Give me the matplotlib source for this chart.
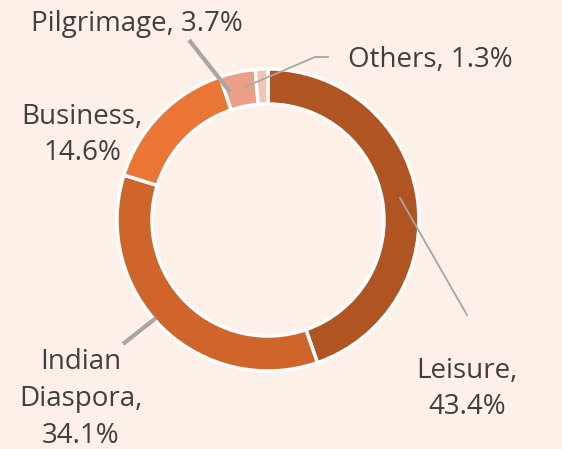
import matplotlib.pyplot as plt

plt.rcParams['font.family'] = ['Open Sans', 'DejaVu Sans']

# data (labels as shown on the chart; shares do not add to 100 in the source)
categories = ["Leisure", "Indian Diaspora", "Business", "Pilgrimage", "Others"]
shares = [43.4, 34.1, 14.6, 3.7, 1.3]
colors = ["#B05422", "#D0652C", "#EA7535", "#EC9F87", "#F3C5B8"]

bg = "#FDF0E9"
txt = "#3F3F3F"
W, H = 562, 449

fig = plt.figure(figsize=(W / 100, H / 100), dpi=100, facecolor=bg)
ax = fig.add_axes([0, 0, 1, 1])
ax.set_facecolor(bg)
ax.set_xlim(0, W)
ax.set_ylim(0, H)
ax.set_aspect('equal')
ax.axis('off')

# donut, clockwise from 12 o'clock
ax.pie(shares, colors=colors, startangle=90, counterclock=False,
       radius=151, center=(268, H - 220),
       wedgeprops=dict(width=35, edgecolor='white', linewidth=2.5))
ax.set_xlim(0, W)
ax.set_ylim(0, H)


def py(y):
    # pixel row from top -> data y
    return H - y


# leader lines
ax.plot([189, 230], [py(40), py(92)], color='#A6A6A6', lw=3, solid_capstyle='butt')
ax.plot([328, 315, 245], [py(57), py(57), py(87)], color='#A6A6A6', lw=1.3)
ax.plot([123, 156], [py(344), py(318)], color='#A6A6A6', lw=3, solid_capstyle='butt')
ax.plot([400, 467], [py(198), py(315)], color='#A6A6A6', lw=1.3)

fs = 20
lbl = [f"{c}, {s}%" for c, s in zip(categories, shares)]
ax.text(137, py(24), lbl[3], ha='center', va='center', fontsize=fs, color=txt)
ax.text(430, py(60), lbl[4], ha='center', va='center', fontsize=fs, color=txt)
ax.text(82, py(135), f"{categories[2]},\n{shares[2]}%", ha='center', va='center',
        fontsize=fs, color=txt, linespacing=1.42)
ax.text(81, py(399), "Indian\nDiaspora,\n" + f"{shares[1]}%", ha='center', va='center',
        fontsize=fs, color=txt, linespacing=1.42)
ax.text(467, py(389), f"{categories[0]},\n{shares[0]}%", ha='center', va='center',
        fontsize=fs, color=txt, linespacing=1.42)

fig.savefig("out.png", dpi=100, facecolor=bg)
